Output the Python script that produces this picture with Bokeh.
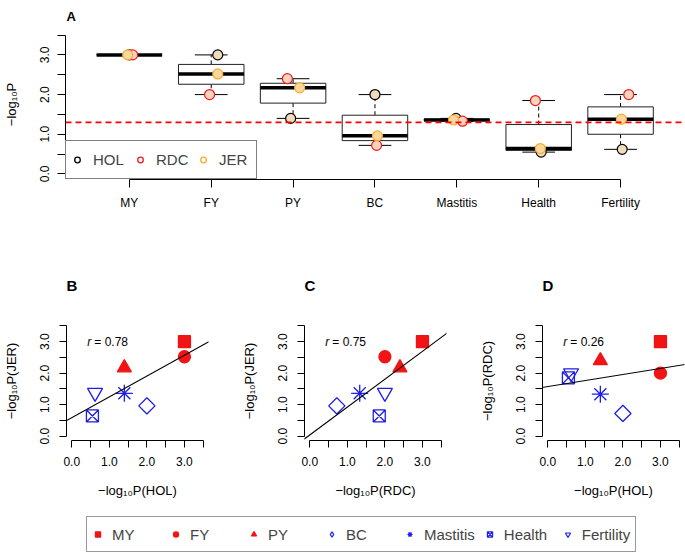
import numpy as np
from bokeh.plotting import figure
from bokeh.models import (Range1d, FixedTicker, CustomJSTickFormatter, Span, Slope,
                          Legend, LegendItem)
from bokeh.layouts import column, row
from bokeh.embed import file_html
from bokeh.resources import INLINE
from bokeh.core.properties import value

# ---------------- data ----------------
traits = ["MY", "FY", "PY", "BC", "Mastitis", "Health", "Fertility"]
hol = [3.00, 3.00, 1.40, 2.00, 1.40, 0.55, 0.62]
rdc = [3.00, 2.00, 2.40, 0.72, 1.33, 1.85, 2.00]
jer = [3.00, 2.52, 2.17, 0.96, 1.36, 0.64, 1.38]
# horizontal jitter of the points in panel A (category units)
hol_jitter = [0.00, 0.08, -0.03, 0.00, -0.01, 0.03, 0.02]
rdc_jitter = [0.04, -0.02, -0.07, 0.02, 0.07, -0.04, 0.10]
jer_jitter = [-0.02, 0.08, 0.08, 0.03, -0.04, 0.02, 0.01]
threshold = 1.3
axis_ticks = [0.0, 0.5, 1.0, 1.5, 2.0, 2.5, 3.0, 3.5]
r_labels = [0.78, 0.75, 0.26]          # printed correlation coefficients
r_label_pos = (1.0, 3.0)

FONT = "Liberation Sans"
RED = "#F01414"
BLUE = "#1E1EE6"
MINUS = "\u2212"
SUB10 = "\u2081\u2080"

tick_fmt = CustomJSTickFormatter(
    code="return (Math.abs(tick - Math.round(tick)) < 1e-6) ? tick.toFixed(1) : '';")


def style_axis(ax, tick_out, label_size="12px", title_size="13px"):
    ax.axis_line_color = "black"
    ax.axis_line_width = 1
    ax.major_tick_line_color = "black"
    ax.major_tick_out = tick_out
    ax.major_tick_in = 0
    ax.minor_tick_line_color = None
    ax.major_label_text_font = FONT
    ax.major_label_text_font_size = label_size
    ax.major_label_text_color = "black"
    ax.axis_label_text_font = FONT
    ax.axis_label_text_font_size = title_size
    ax.axis_label_text_font_style = "normal"
    ax.axis_label_text_color = "black"


def panel_letter(p, text, standoff, offset=0, size="15px", valign="bottom"):
    p.title.text = text
    p.title.align = "left"
    p.title.vertical_align = valign
    p.title.offset = offset
    p.title.standoff = standoff
    p.title.text_font = FONT
    p.title.text_font_size = size
    p.title.text_font_style = "bold"
    p.title.text_color = "black"


# ---------------- panel A : box plots ----------------
def fivenum(v):
    v = np.sort(np.asarray(v, dtype=float))
    n = len(v)
    n4 = np.floor((n + 3) / 2) / 2
    d = np.array([1, n4, (n + 1) / 2, n + 1 - n4, n]) - 1
    return 0.5 * (v[np.floor(d).astype(int)] + v[np.ceil(d).astype(int)])


A_W, A_H = 685, 246
A_L, A_R, A_T, A_B = 64, 2, 27, 67
px_per_cat = 82.0
xa0 = 0.22
pA = figure(width=A_W, height=A_H, output_backend="svg", toolbar_location=None,
            title="A", x_range=Range1d(xa0, xa0 + (A_W - A_L - A_R) / px_per_cat),
            y_range=Range1d(-0.14, 3.64),
            min_border_left=A_L, min_border_right=A_R, min_border_top=A_T,
            min_border_bottom=A_B, outline_line_color=None)
pA.grid.visible = False
pos = np.arange(1, len(traits) + 1)

for i, t in enumerate(traits):
    vals = [hol[i], rdc[i], jer[i]]
    mn, lh, med, uh, mx = fivenum(vals)
    iqr = uh - lh
    lo = min(v for v in vals if v >= lh - 1.5 * iqr)
    hi = max(v for v in vals if v <= uh + 1.5 * iqr)
    x = pos[i]
    pA.segment(x0=[x, x], y0=[uh, lh], x1=[x, x], y1=[hi, lo],
               line_color="black", line_width=1, line_dash="4 3")
    pA.segment(x0=[x - 0.2, x - 0.2], y0=[hi, lo], x1=[x + 0.2, x + 0.2], y1=[hi, lo],
               line_color="black", line_width=1)
    pA.quad(left=[x - 0.4], right=[x + 0.4], bottom=[lh], top=[uh],
            fill_color="white", line_color="#222222", line_width=1)
    pA.segment(x0=[x - 0.4], y0=[med], x1=[x + 0.4], y1=[med],
               line_color="black", line_width=3.5)

pA.add_layout(Span(location=threshold, dimension="width", line_color="#FF0000",
                   line_dash="6 4", line_width=1.8, level="glyph"))

pt_fill = {"HOL": "#EEDCBC", "RDC": "#F6D4C0", "JER": "#FAD79E"}
pt_line = {"HOL": "black", "RDC": "#EE1C1C", "JER": "#F2AE2E"}
series = (("HOL", hol, hol_jitter), ("RDC", rdc, rdc_jitter), ("JER", jer, jer_jitter))
for name, vals, jit in series:
    pA.scatter(x=pos + np.array(jit), y=vals, marker="circle", size=10,
               fill_color=pt_fill[name], line_color=pt_line[name], line_width=1.2)

leg_items = []
for name, vals, jit in series:
    r = pA.scatter(x=pos + np.array(jit), y=vals, marker="circle", fill_color=None,
                   line_color=pt_line[name], line_width=1.3, visible=False)
    leg_items.append(LegendItem(label=name, renderers=[r]))
legA = Legend(items=leg_items, location=(0, 0), orientation="horizontal",
              margin=0, padding=4, spacing=7, glyph_width=14, glyph_height=29,
              label_standoff=9, label_width=33, label_text_font=FONT,
              label_text_font_size="15px", border_line_color="black",
              border_line_width=1, background_fill_color="white",
              background_fill_alpha=1, inactive_fill_alpha=0)
pA.add_layout(legA, "center")

xa = pA.xaxis[0]
style_axis(xa, 8)
xa.ticker = FixedTicker(ticks=list(pos))
xa.formatter = CustomJSTickFormatter(args=dict(labels=traits),
                                     code="return labels[Math.round(tick) - 1] || '';")
xa.bounds = (1, len(traits))
xa.major_label_standoff = 8
ya = pA.yaxis[0]
style_axis(ya, 8)
ya.ticker = FixedTicker(ticks=axis_ticks)
ya.formatter = tick_fmt
ya.bounds = (0, 3.5)
ya.major_label_orientation = "vertical"
ya.major_label_standoff = 8
ya.axis_label = MINUS + "log" + SUB10 + "P"
ya.axis_label_standoff = 19
panel_letter(pA, "A", 12, 1, size="13px")

# ---------------- panels B, C, D : scatter ----------------
trait_style = {
    "MY": dict(marker="square", size=12, fill_color=RED, line_color=RED, angle=0.0),
    "FY": dict(marker="circle", size=12, fill_color=RED, line_color=RED, angle=0.0),
    "PY": dict(marker="triangle", size=14, fill_color=RED, line_color=RED, angle=0.0),
    "BC": dict(marker="square", size=11.5, fill_color=None, line_color=BLUE, angle=np.pi / 4),
    "Mastitis": dict(marker="asterisk", size=17, fill_color=None, line_color=BLUE, angle=0.0),
    "Health": dict(marker="square_x", size=12, fill_color=None, line_color=BLUE, angle=0.0),
    "Fertility": dict(marker="inverted_triangle", size=15, fill_color=None, line_color=BLUE, angle=0.0),
}
legend_marker = {"BC": "diamond"}

S_H, S_T, S_B = 266, 74, 72
panels = [
    ("B", hol, jer, "HOL", "JER", 238, 30),
    ("C", rdc, jer, "RDC", "JER", 238, 30),
    ("D", hol, rdc, "HOL", "RDC", 209, 1),
]
scatter_figs = []
for k, (letter, xs, ys, xn, yn, w, mbr) in enumerate(panels):
    p = figure(width=w, height=S_H, output_backend="svg", toolbar_location=None,
               title=letter, x_range=Range1d(-0.14, 3.64), y_range=Range1d(-0.14, 3.64),
               min_border_left=65, min_border_right=mbr, min_border_top=S_T,
               min_border_bottom=S_B, outline_line_color=None)
    p.grid.visible = False
    b, a = np.polyfit(xs, ys, 1)
    p.add_layout(Slope(gradient=b, y_intercept=a, line_color="black", line_width=1.1))
    for i, t in enumerate(traits):
        st = trait_style[t]
        p.scatter(x=[xs[i]], y=[ys[i]], marker=st["marker"], size=st["size"],
                  angle=st["angle"], fill_color=st["fill_color"],
                  line_color=st["line_color"], line_width=1.3)
    p.text(x=[r_label_pos[0]], y=[r_label_pos[1]], text=["r"], text_align="right",
           text_baseline="middle", x_offset=-18, text_font=value(FONT),
           text_font_size="12px", text_font_style="italic", text_color="black")
    p.text(x=[r_label_pos[0]], y=[r_label_pos[1]], text=["= %.2f" % r_labels[k]],
           text_align="left", text_baseline="middle", x_offset=-15,
           text_font=value(FONT), text_font_size="12px", text_color="black")
    xax = p.xaxis[0]
    style_axis(xax, 7)
    xax.ticker = FixedTicker(ticks=axis_ticks)
    xax.formatter = tick_fmt
    xax.bounds = (0, 3.5)
    xax.major_label_standoff = 9
    xax.axis_label = MINUS + "log" + SUB10 + "P(" + xn + ")"
    xax.axis_label_standoff = 14
    yax = p.yaxis[0]
    style_axis(yax, 7)
    yax.ticker = FixedTicker(ticks=axis_ticks)
    yax.formatter = tick_fmt
    yax.bounds = (0, 3.5)
    yax.major_label_orientation = "vertical"
    yax.major_label_standoff = 10
    yax.axis_label = MINUS + "log" + SUB10 + "P(" + yn + ")"
    yax.axis_label_standoff = 19
    panel_letter(p, letter, 56)
    scatter_figs.append(p)

# ---------------- bottom legend ----------------
# (the column aligns this frame with panel A's frame, which starts at x = 64)
pL = figure(width=685, height=43, output_backend="svg", toolbar_location=None,
            title=None, x_range=Range1d(0, 1), y_range=Range1d(0, 1),
            x_axis_type=None, y_axis_type=None,
            min_border_left=0, min_border_right=0, min_border_top=0,
            min_border_bottom=0, outline_line_color=None)
pL.grid.visible = False
items = []
for i, t in enumerate(traits):
    st = trait_style[t]
    r = pL.scatter(x=[hol[i]], y=[jer[i]], marker=legend_marker.get(t, st["marker"]),
                   fill_color=st["fill_color"], line_color=st["line_color"],
                   line_width=1.2, visible=False)
    items.append(LegendItem(label=t, renderers=[r]))
legL = Legend(items=items, location=(21, 3), orientation="horizontal", margin=0,
              padding=4, spacing=8, glyph_width=13, glyph_height=26,
              label_standoff=8, label_width=49, label_text_font=FONT,
              label_text_font_size="15px", border_line_color="#333333",
              border_line_width=1, background_fill_color="white",
              inactive_fill_alpha=0)
pL.add_layout(legL, "center")

layout = column(pA, row(*scatter_figs), pL)
with open("out.html", "w") as f:
    f.write(file_html(layout, INLINE))
